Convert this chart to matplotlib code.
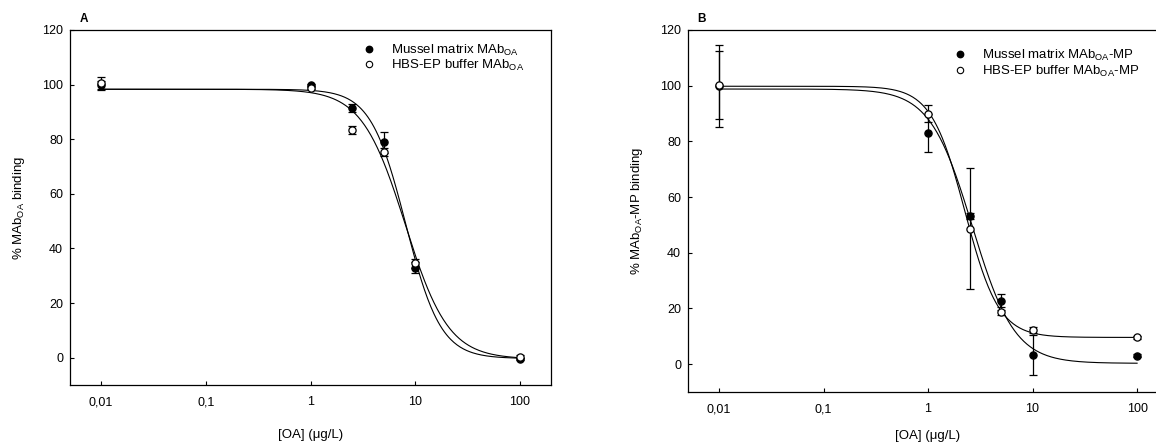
import numpy as np
import matplotlib
matplotlib.use("Agg")
import matplotlib.pyplot as plt

plt.rcParams["font.family"] = ["Liberation Sans", "DejaVu Sans"]
plt.rcParams["font.size"] = 9.5
plt.rcParams["mathtext.default"] = "regular"

# shared axes data
conc = [0.01, 1, 2.5, 5, 10, 100]
x_ticks = [0.01, 0.1, 1, 10, 100]
x_tick_labels = ["0,01", "0,1", "1", "10", "100"]
y_ticks = [0, 20, 40, 60, 80, 100, 120]

# panel A: MAb_OA
a_mussel = [100.0, 99.9, 91.4, 78.9, 32.9, -0.5]
a_mussel_err = [1.5, 0.5, 1.5, 3.8, 2.0, 0.5]
a_hbs = [100.5, 98.8, 83.4, 75.3, 34.5, 0.4]
a_hbs_err = [2.4, 0.5, 1.5, 1.5, 1.5, 0.5]
# fitted four-parameter logistic: top, bottom, IC50, hill slope
a_mussel_fit = (98.3, -0.3, 8.1, 2.6)
a_hbs_fit = (98.3, -0.5, 8.0, 2.1)

# panel B: MAb_OA-MP
b_mussel = [100.0, 83.0, 53.3, 22.8, 3.4, 3.0]
b_mussel_err = [14.7, 6.7, 1.0, 2.4, 7.2, 0.5]
b_hbs = [100.2, 89.9, 48.7, 18.6, 12.3, 9.6]
b_hbs_err = [12.3, 3.0, 21.7, 0.8, 1.0, 0.5]
b_mussel_fit = (98.8, 0.3, 2.65, 2.15)
b_hbs_fit = (99.8, 9.6, 2.26, 2.69)

X_LIM = (10 ** -2.296, 10 ** 2.296)


def logistic(x, params):
    top, bottom, ic50, hill = params
    return bottom + (top - bottom) / (1.0 + (x / ic50) ** hill)


def draw_panel(ax, mussel, mussel_err, hbs, hbs_err, fits, labels, ylabel, letter,
               legend_xy, xlabel_pad):
    xs = np.logspace(np.log10(conc[0]), np.log10(conc[-1]), 400)
    for fit in fits:
        ax.plot(xs, logistic(xs, fit), color="black", lw=0.8, zorder=2)

    style = dict(fmt="o", ms=5.2, mec="black", mew=0.9, ecolor="black",
                 elinewidth=0.9, capsize=3.2, capthick=0.9)
    ax.errorbar(conc, mussel, yerr=mussel_err, mfc="black", zorder=3, **style)
    ax.errorbar(conc, hbs, yerr=hbs_err, mfc="white", zorder=4, **style)

    ax.set_xscale("log")
    ax.set_xlim(*X_LIM)
    ax.set_ylim(-10, 120)
    ax.set_xticks(x_ticks)
    ax.set_xticklabels(x_tick_labels)
    ax.minorticks_off()
    ax.set_yticks(y_ticks)
    ax.tick_params(direction="in", length=3, width=0.8, colors="black", labelsize=9, pad=5)
    ax.tick_params(axis="x", pad=8)
    for sp in ax.spines.values():
        sp.set_linewidth(0.9)

    ax.set_xlabel("[OA] (μg/L)", labelpad=xlabel_pad)
    ax.set_ylabel(ylabel, labelpad=11)
    ax.text(0.02, 1.015, letter, transform=ax.transAxes, fontweight="bold",
            fontsize=8.5, ha="left", va="bottom")

    leg_handles = [
        plt.Line2D([], [], ls="none", marker="o", ms=4.6, mfc="black", mec="black"),
        plt.Line2D([], [], ls="none", marker="o", ms=4.6, mfc="white", mec="black", mew=0.8),
    ]
    ax.legend(leg_handles, labels, loc="upper left", bbox_to_anchor=legend_xy,
              frameon=False, handlelength=1.0, handletextpad=1.2, labelspacing=0.02,
              borderpad=0, borderaxespad=0, fontsize=9.5)


fig = plt.figure(figsize=(11.56, 4.45), dpi=100)
ax_a = fig.add_axes([0.0606, 0.1348, 0.4161, 0.7978])
ax_b = fig.add_axes([0.5952, 0.1191, 0.4152, 0.8135])

draw_panel(ax_a, a_mussel, a_mussel_err, a_hbs, a_hbs_err,
           [a_mussel_fit, a_hbs_fit],
           ["Mussel matrix MAb$_{OA}$", "HBS-EP buffer MAb$_{OA}$"],
           "% MAb$_{OA}$ binding", "A", (0.607, 0.965), 15)
draw_panel(ax_b, b_mussel, b_mussel_err, b_hbs, b_hbs_err,
           [b_mussel_fit, b_hbs_fit],
           ["Mussel matrix MAb$_{OA}$-MP", "HBS-EP buffer MAb$_{OA}$-MP"],
           "% MAb$_{OA}$-MP binding", "B", (0.552, 0.95), 11)

fig.savefig("out.png", dpi=100)
plt.close(fig)
